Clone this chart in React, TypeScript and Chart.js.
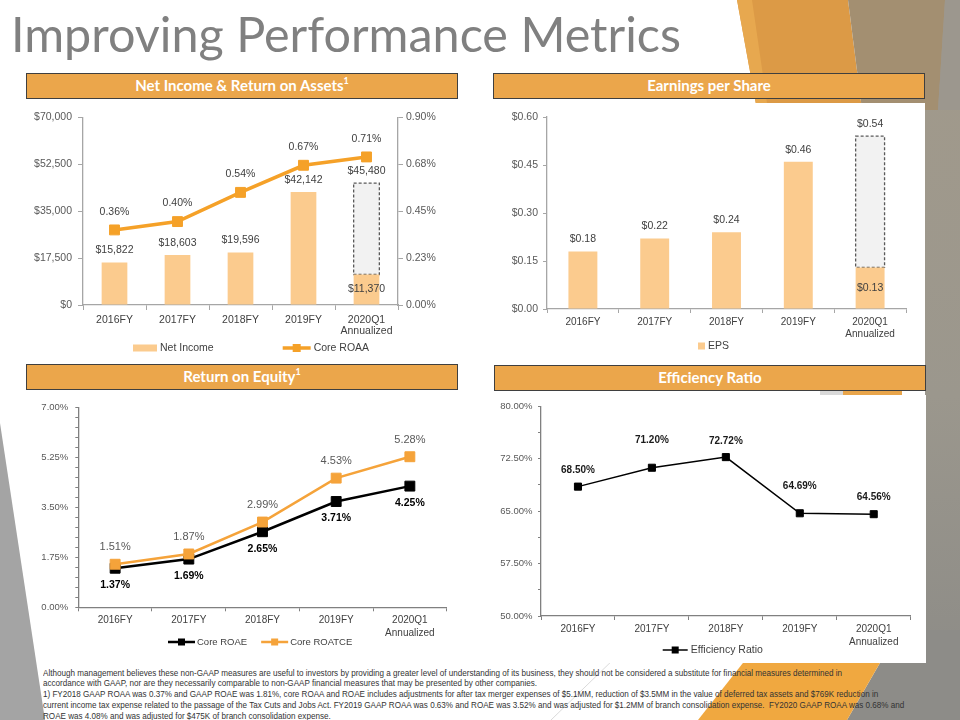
import React, { useEffect, useLayoutEffect, useRef } from 'react';
import { Chart, registerables } from 'chart.js';
Chart.register(...registerables);

// ---------------- data ----------------
const categories: any[] = ['2016FY', '2017FY', '2018FY', '2019FY', ['2020Q1', 'Annualized']];

const netIncome = [15822, 18603, 19596, 42142, 11370];
const netIncomeAnnualized = [null, null, null, null, 45480];
const coreRoaa = [0.36, 0.4, 0.54, 0.67, 0.71];
const netIncomeTickLabels = ['$0', '$17,500', '$35,000', '$52,500', '$70,000'];
const roaaTickLabels = ['0.00%', '0.23%', '0.45%', '0.68%', '0.90%'];

const eps = [0.18, 0.22, 0.24, 0.46, 0.13];
const epsAnnualized = [null, null, null, null, 0.54];
const epsTickLabels = ['$0.00', '$0.15', '$0.30', '$0.45', '$0.60'];

const coreRoae = [1.37, 1.69, 2.65, 3.71, 4.25];
const coreRoatce = [1.51, 1.87, 2.99, 4.53, 5.28];
const roeTickLabels = ['0.00%', '1.75%', '3.50%', '5.25%', '7.00%'];

const efficiencyRatio = [68.5, 71.2, 72.72, 64.69, 64.56];
const efficiencyTickLabels = ['50.00%', '57.50%', '65.00%', '72.50%', '80.00%'];

const footnoteLines = [
  'Although management believes these non-GAAP measures are useful to investors by providing a greater level of understanding of its business, they should not be considered a substitute for financial measures determined in',
  'accordance with GAAP, nor are they necessarily comparable to non-GAAP financial measures that may be presented by other companies.',
  '1) FY2018 GAAP ROAA was 0.37% and GAAP ROAE was 1.81%, core ROAA and ROAE includes adjustments for after tax merger expenses of $5.1MM, reduction of $3.5MM in the value of deferred tax assets and $769K reduction in',
  'current income tax expense related to the passage of the Tax Cuts and Jobs Act. FY2019 GAAP ROAA was 0.63% and ROAE was 3.52% and was adjusted for $1.2MM of branch consolidation expense.  FY2020 GAAP ROAA was 0.68% and',
  'ROAE was 4.08% and was adjusted for $475K of branch consolidation expense.',
];

// ---------------- styles ----------------
const FONT = '"Liberation Sans", Arial, sans-serif';
const ORANGE = '#F5A128';
const ORANGE2 = '#F5A33A';
const PEACH = '#FBCB8E';
const AXIS = '#A6A6A6';
const AXIS_DARK = '#808080';
const TICK = '#595959';
const TEXT = '#404040';
const HEADER = '#EBA64B';

const fmtDollar = (v: number) => '$' + v.toLocaleString('en-US');
const fmtEps = (v: number) => '$' + v.toFixed(2);
const fmtPct = (v: number) => v.toFixed(2) + '%';

function fixedTicks(min: number, max: number, labels: string[], minorPerMajor: number) {
  const n = (labels.length - 1) * minorPerMajor;
  const values = Array.from({ length: n + 1 }, (_, i) => min + ((max - min) * i) / n);
  return {
    min,
    max,
    afterBuildTicks: (axis: any) => {
      axis.ticks = values.map((v) => ({ value: v }));
    },
    cb: (_v: any, i: number) => (i % minorPerMajor === 0 ? labels[i / minorPerMajor] : ''),
  };
}

// ---------------- plugins ----------------
const valueLabels = {
  id: 'valueLabels',
  afterDatasetsDraw(chart: any) {
    const ctx = chart.ctx;
    chart.data.datasets.forEach((ds: any, di: number) => {
      const cfg = ds.valueLabels;
      if (!cfg) return;
      const meta = chart.getDatasetMeta(di);
      meta.data.forEach((el: any, i: number) => {
        const raw = ds.data[i];
        if (raw == null) return;
        const v = Array.isArray(raw) ? raw[1] : raw;
        const pos = typeof cfg.position === 'function' ? cfg.position(i) : cfg.position;
        const off = cfg.offsets ? cfg.offsets[i] : cfg.offset;
        let y;
        if (pos === 'above') y = el.y - off;
        else if (pos === 'below') y = el.y + off;
        else y = (el.y + el.base) / 2;
        ctx.save();
        ctx.font = cfg.font;
        ctx.fillStyle = cfg.color;
        ctx.textAlign = 'center';
        ctx.textBaseline = 'middle';
        ctx.fillText(cfg.format(v), el.x, y);
        ctx.restore();
      });
    });
  },
};

const dashedBox = {
  id: 'dashedBox',
  afterDatasetDraw(chart: any, args: any) {
    const ds = chart.data.datasets[args.index];
    if (!ds.dashedOutline) return;
    const ctx = chart.ctx;
    args.meta.data.forEach((el: any, i: number) => {
      if (ds.data[i] == null) return;
      const { x, y, base, width } = el.getProps(['x', 'y', 'base', 'width'], true);
      ctx.save();
      ctx.setLineDash([3, 2]);
      ctx.lineWidth = 1.3;
      ctx.strokeStyle = ds.dashedOutline;
      ctx.strokeRect(x - width / 2, Math.min(y, base), width, Math.abs(base - y));
      ctx.restore();
    });
  },
};

const customLegend = {
  id: 'customLegend',
  afterDraw(chart: any, _a: any, opts: any) {
    if (!opts || opts.y == null) return;
    const ctx = chart.ctx;
    const list = chart.data.datasets.filter((d: any) => !d.hideInLegend);
    ctx.save();
    ctx.font = opts.font;
    let x = opts.startX;
    const y = opts.y;
    list.forEach((d: any) => {
      const type = d.type || chart.config.type;
      const sw = type === 'bar' ? opts.barSwatch : opts.lineSwatch;
      if (type === 'bar') {
        ctx.fillStyle = d.backgroundColor;
        ctx.fillRect(x, y - opts.boxHeight / 2, sw, opts.boxHeight);
      } else {
        ctx.strokeStyle = d.borderColor;
        ctx.lineWidth = d.borderWidth;
        ctx.beginPath();
        ctx.moveTo(x, y);
        ctx.lineTo(x + sw, y);
        ctx.stroke();
        const m = opts.markerSize;
        ctx.fillStyle = d.pointBackgroundColor;
        ctx.fillRect(x + sw / 2 - m / 2, y - m / 2, m, m);
      }
      ctx.fillStyle = opts.color;
      ctx.textAlign = 'left';
      ctx.textBaseline = 'middle';
      const tx = x + sw + opts.textGap;
      ctx.fillText(d.label, tx, y);
      x = tx + ctx.measureText(d.label).width + opts.itemGap;
    });
    ctx.restore();
  },
};

function xAxis(color: string, size: number, lineHeight: number, tickLength: number, padding: number, height: number) {
  return {
    offset: true,
    grid: { display: true, offset: true, drawOnChartArea: false, drawTicks: true, tickLength, color },
    border: { color, width: 1.3 },
    ticks: { color: TEXT, font: { family: FONT, size, lineHeight }, padding, maxRotation: 0, autoSkip: false },
    afterFit: (s: any) => {
      s.height = height;
    },
  };
}

function yAxis(t: any, position: string, color: string, size: number, tickLength: number, padding: number, width: number) {
  return {
    position,
    min: t.min,
    max: t.max,
    afterBuildTicks: t.afterBuildTicks,
    grid: { display: true, drawOnChartArea: false, drawTicks: true, tickLength, color },
    border: { color, width: 1.3 },
    ticks: { color: TICK, font: { family: FONT, size }, padding, autoSkip: false, callback: t.cb },
    afterFit: (s: any) => {
      s.width = width;
    },
  };
}

const base = { animation: false, responsive: false, events: [] as any[] };

// ---------------- chart configs ----------------
function netIncomeConfig(): any {
  const lf = `10.5px ${FONT}`;
  return {
    type: 'bar',
    data: {
      labels: categories,
      datasets: [
        {
          type: 'bar',
          label: 'Net Income',
          data: netIncome,
          yAxisID: 'y',
          backgroundColor: PEACH,
          grouped: false,
          barPercentage: 0.51,
          categoryPercentage: 0.8,
          order: 2,
          valueLabels: {
            font: lf,
            color: TEXT,
            offset: 12,
            position: (i: number) => (netIncomeAnnualized[i] != null ? 'center' : 'above'),
            format: fmtDollar,
          },
        },
        {
          type: 'line',
          label: 'Core ROAA',
          data: coreRoaa,
          yAxisID: 'y1',
          borderColor: ORANGE,
          backgroundColor: ORANGE,
          borderWidth: 3.5,
          pointStyle: 'rect',
          pointRadius: 7,
          pointBorderWidth: 1,
          pointBackgroundColor: ORANGE,
          pointBorderColor: ORANGE,
          order: 0,
          valueLabels: { font: lf, color: TEXT, offset: 18, position: 'above', format: fmtPct },
        },
        {
          type: 'bar',
          label: 'Net Income Annualized',
          hideInLegend: true,
          data: netIncomeAnnualized.map((v, i) => (v == null ? null : [netIncome[i], v])),
          yAxisID: 'y',
          backgroundColor: '#F2F2F2',
          grouped: false,
          barPercentage: 0.51,
          categoryPercentage: 0.8,
          order: 3,
          dashedOutline: '#595959',
          valueLabels: { font: lf, color: TEXT, offset: 12, position: 'above', format: fmtDollar },
        },
      ],
    },
    options: {
      ...base,
      layout: { padding: { top: 9, right: 0, bottom: 15, left: 0 } },
      plugins: {
        legend: { display: false },
        tooltip: { enabled: false },
        customLegend: {
          y: 243, startX: 113, font: lf, color: TEXT, barSwatch: 24, lineSwatch: 28, boxHeight: 7,
          markerSize: 8, textGap: 3, itemGap: 69,
        },
      },
      scales: {
        x: xAxis(AXIS, 10.5, 1.0, 5, 5, 40),
        y: yAxis(fixedTicks(0, 70000, netIncomeTickLabels, 1), 'left', AXIS, 10.5, 5, 6, 63),
        y1: yAxis(fixedTicks(0, 0.9, roaaTickLabels, 1), 'right', AXIS, 10.5, 5, 3, 72),
      },
    },
    plugins: [dashedBox, valueLabels, customLegend],
  };
}

function epsConfig(): any {
  const lf = `10.5px ${FONT}`;
  return {
    type: 'bar',
    data: {
      labels: categories,
      datasets: [
        {
          label: 'EPS',
          data: eps,
          backgroundColor: PEACH,
          grouped: false,
          barPercentage: 0.5,
          categoryPercentage: 0.806,
          order: 1,
          valueLabels: {
            font: lf,
            color: TEXT,
            offset: 12,
            position: (i: number) => (epsAnnualized[i] != null ? 'center' : 'above'),
            format: fmtEps,
          },
        },
        {
          label: 'EPS Annualized',
          hideInLegend: true,
          data: epsAnnualized.map((v, i) => (v == null ? null : [eps[i], v])),
          backgroundColor: '#F2F2F2',
          grouped: false,
          barPercentage: 0.5,
          categoryPercentage: 0.806,
          order: 2,
          dashedOutline: '#595959',
          valueLabels: { font: lf, color: TEXT, offset: 12, position: 'above', format: fmtEps },
        },
      ],
    },
    options: {
      ...base,
      layout: { padding: { top: 12, right: 14, bottom: 11, left: 0 } },
      plugins: {
        legend: { display: false },
        tooltip: { enabled: false },
        customLegend: {
          y: 241, startX: 208, font: lf, color: TEXT, barSwatch: 7, lineSwatch: 28, boxHeight: 7,
          markerSize: 7, textGap: 3, itemGap: 20,
        },
      },
      scales: {
        x: xAxis(AXIS, 10, 1.2, 4, 3, 40),
        y: yAxis(fixedTicks(0, 0.6, epsTickLabels, 1), 'left', AXIS, 10.5, 4, 5, 57),
      },
    },
    plugins: [dashedBox, valueLabels, customLegend],
  };
}

function roeConfig(): any {
  return {
    type: 'line',
    data: {
      labels: categories,
      datasets: [
        {
          label: 'Core ROAE',
          data: coreRoae,
          borderColor: '#000000',
          backgroundColor: '#000000',
          borderWidth: 2.5,
          pointStyle: 'rect',
          pointRadius: 7,
          pointBorderWidth: 1,
          pointBackgroundColor: '#000000',
          pointBorderColor: '#000000',
          order: 1,
          valueLabels: { font: `bold 10.5px ${FONT}`, color: '#000000', offset: 17, position: 'below', format: fmtPct },
        },
        {
          label: 'Core ROATCE',
          data: coreRoatce,
          borderColor: ORANGE2,
          backgroundColor: ORANGE2,
          borderWidth: 2.5,
          pointStyle: 'rect',
          pointRadius: 7,
          pointBorderWidth: 1,
          pointBackgroundColor: ORANGE2,
          pointBorderColor: ORANGE2,
          order: 0,
          valueLabels: { font: `11px ${FONT}`, color: TICK, offset: 17, position: 'above', format: fmtPct },
        },
      ],
    },
    options: {
      ...base,
      layout: { padding: { top: 12.3, right: 13.3, bottom: 12.7, left: 0 } },
      plugins: {
        legend: { display: false },
        tooltip: { enabled: false },
        customLegend: {
          y: 247, startX: 148, font: `9.5px ${FONT}`, color: TEXT, barSwatch: 7, lineSwatch: 27, boxHeight: 7,
          markerSize: 7, textGap: 2, itemGap: 14,
        },
      },
      scales: {
        x: xAxis(AXIS_DARK, 10, 1.25, 4, 3, 40),
        y: yAxis(fixedTicks(0, 7, roeTickLabels, 5), 'left', AXIS_DARK, 9.5, 3, 7, 58.3),
      },
    },
    plugins: [valueLabels, customLegend],
  };
}

function efficiencyConfig(): any {
  return {
    type: 'line',
    data: {
      labels: categories,
      datasets: [
        {
          label: 'Efficiency Ratio',
          data: efficiencyRatio,
          borderColor: '#000000',
          backgroundColor: '#000000',
          borderWidth: 1.5,
          pointStyle: 'rect',
          pointRadius: 5,
          pointBorderWidth: 1,
          pointBackgroundColor: '#000000',
          pointBorderColor: '#000000',
          valueLabels: {
            font: `bold 10px ${FONT}`,
            color: '#1A1A1A',
            offsets: [16, 27, 16, 27, 17],
            position: 'above',
            format: fmtPct,
          },
        },
      ],
    },
    options: {
      ...base,
      layout: { padding: { top: 10.7, right: 9.3, bottom: 10, left: 0 } },
      plugins: {
        legend: { display: false },
        tooltip: { enabled: false },
        customLegend: {
          y: 255, startX: 172.7, font: `10.5px ${FONT}`, color: TEXT, barSwatch: 7, lineSwatch: 25, boxHeight: 7,
          markerSize: 7, textGap: 3, itemGap: 14,
        },
      },
      scales: {
        x: xAxis(AXIS_DARK, 10, 1.25, 4, 3, 36),
        y: yAxis(fixedTicks(50, 80, efficiencyTickLabels, 2), 'left', AXIS_DARK, 9.5, 3, 5.5, 51),
      },
    },
    plugins: [valueLabels, customLegend],
  };
}

// ---------------- components ----------------
function ChartCanvas({ make, left, top, width, height }: any) {
  const ref = useRef<HTMLCanvasElement>(null);
  useEffect(() => {
    const chart = new Chart(ref.current as HTMLCanvasElement, make());
    return () => chart.destroy();
  }, []);
  return (
    <canvas
      ref={ref}
      width={width}
      height={height}
      style={{ position: 'absolute', left, top, width, height }}
    />
  );
}

function Header({ left, top, width, children }: any) {
  return (
    <div
      style={{
        position: 'absolute',
        left,
        top,
        width,
        height: 26,
        boxSizing: 'border-box',
        background: HEADER,
        border: '1.5px solid #3F3F3F',
        color: '#FFFFFF',
        fontFamily: 'Lato, "Open Sans", sans-serif',
        fontWeight: 700,
        fontSize: 15,
        lineHeight: '23px',
        textAlign: 'center',
      }}
    >
      {children}
    </div>
  );
}

function Footnote() {
  const ref = useRef<HTMLDivElement>(null);
  useLayoutEffect(() => {
    const el = ref.current;
    if (!el) return;
    const first = el.querySelector('span') as HTMLElement;
    const w = first.getBoundingClientRect().width;
    if (w > 0) el.style.transform = `scaleX(${799 / w})`;
  }, []);
  return (
    <div
      ref={ref}
      style={{
        position: 'absolute',
        left: 43,
        top: 667.5,
        transformOrigin: 'left top',
        fontFamily: FONT,
        fontSize: 9.5,
        lineHeight: '10.75px',
        color: '#333333',
        whiteSpace: 'pre',
      }}
    >
      {footnoteLines.map((l, i) => (
        <div key={i}>
          <span>{l}</span>
        </div>
      ))}
    </div>
  );
}

export default function App() {
  return (
    <div
      style={{
        position: 'absolute',
        left: 0,
        top: 0,
        width: 960,
        height: 720,
        overflow: 'hidden',
        background: '#FFFFFF',
      }}
    >
      <svg width={960} height={720} style={{ position: 'absolute', left: 0, top: 0 }}>
        <defs>
          <linearGradient id="rg" x1="0" y1="0" x2="0" y2="1">
            <stop offset="0" stopColor="#A29A8B" />
            <stop offset="0.55" stopColor="#9B978D" />
            <stop offset="1" stopColor="#8B8A86" />
          </linearGradient>
        </defs>
        <polygon points="0,423 45,720 0,720" fill="#A4A4A4" />
        <rect x="925" y="0" width="35" height="720" fill="url(#rg)" />
        <polygon points="737,0 848,0 862,110 757,110" fill="#DC9A46" />
        <polygon points="737,0 752,0 768,110 757,110" fill="#E7A84F" />
        <polygon points="848,0 945,0 938,110 862,110" fill="#A38F71" />
        <polygon points="945,0 960,0 960,110 938,110" fill="#9C978E" />
        <polygon points="899,630 960,630 960,720 847,720" fill="#8D8C88" />
        <polygon points="769,630 899,630 847,720 698,720" fill="#F0A840" />
        <rect x="843" y="385" width="59" height="12" fill="#E9A54A" />
        <rect x="820" y="385" width="23" height="12" fill="#D9D9D9" />
        <line x1="551" y1="720" x2="618" y2="655" stroke="#D0D0D0" strokeWidth="0.8" />
      </svg>

      {/* white panels */}
      <div style={{ position: 'absolute', left: 478, top: 103, width: 447, height: 262, background: '#FFFFFF' }} />
      <div style={{ position: 'absolute', left: 478, top: 395, width: 448, height: 268, background: '#FFFFFF' }} />

      <div
        style={{
          position: 'absolute',
          left: 11,
          top: 9.4,
          fontFamily: 'Lato, "Open Sans", sans-serif',
          fontSize: 48.5,
          lineHeight: '48px',
          color: '#808080',
          whiteSpace: 'nowrap',
        }}
      >
        Improving Performance Metrics
      </div>

      <Header left={26} top={73} width={432}>
        Net Income &amp; Return on Assets<sup style={{ fontSize: 9, verticalAlign: 'top', lineHeight: '14px' }}>1</sup>
      </Header>
      <Header left={493} top={73} width={432}>
        Earnings per Share
      </Header>
      <Header left={26} top={364} width={432}>
        Return on Equity<sup style={{ fontSize: 9, verticalAlign: 'top', lineHeight: '14px' }}>1</sup>
      </Header>
      <Header left={494} top={365} width={432}>
        Efficiency Ratio
      </Header>

      <ChartCanvas make={netIncomeConfig} left={20} top={105} width={450} height={255} />
      <ChartCanvas make={epsConfig} left={490} top={105} width={430} height={255} />
      <ChartCanvas make={roeConfig} left={20} top={395} width={440} height={265} />
      <ChartCanvas make={efficiencyConfig} left={490} top={395} width={430} height={267} />

      <Footnote />
    </div>
  );
}
